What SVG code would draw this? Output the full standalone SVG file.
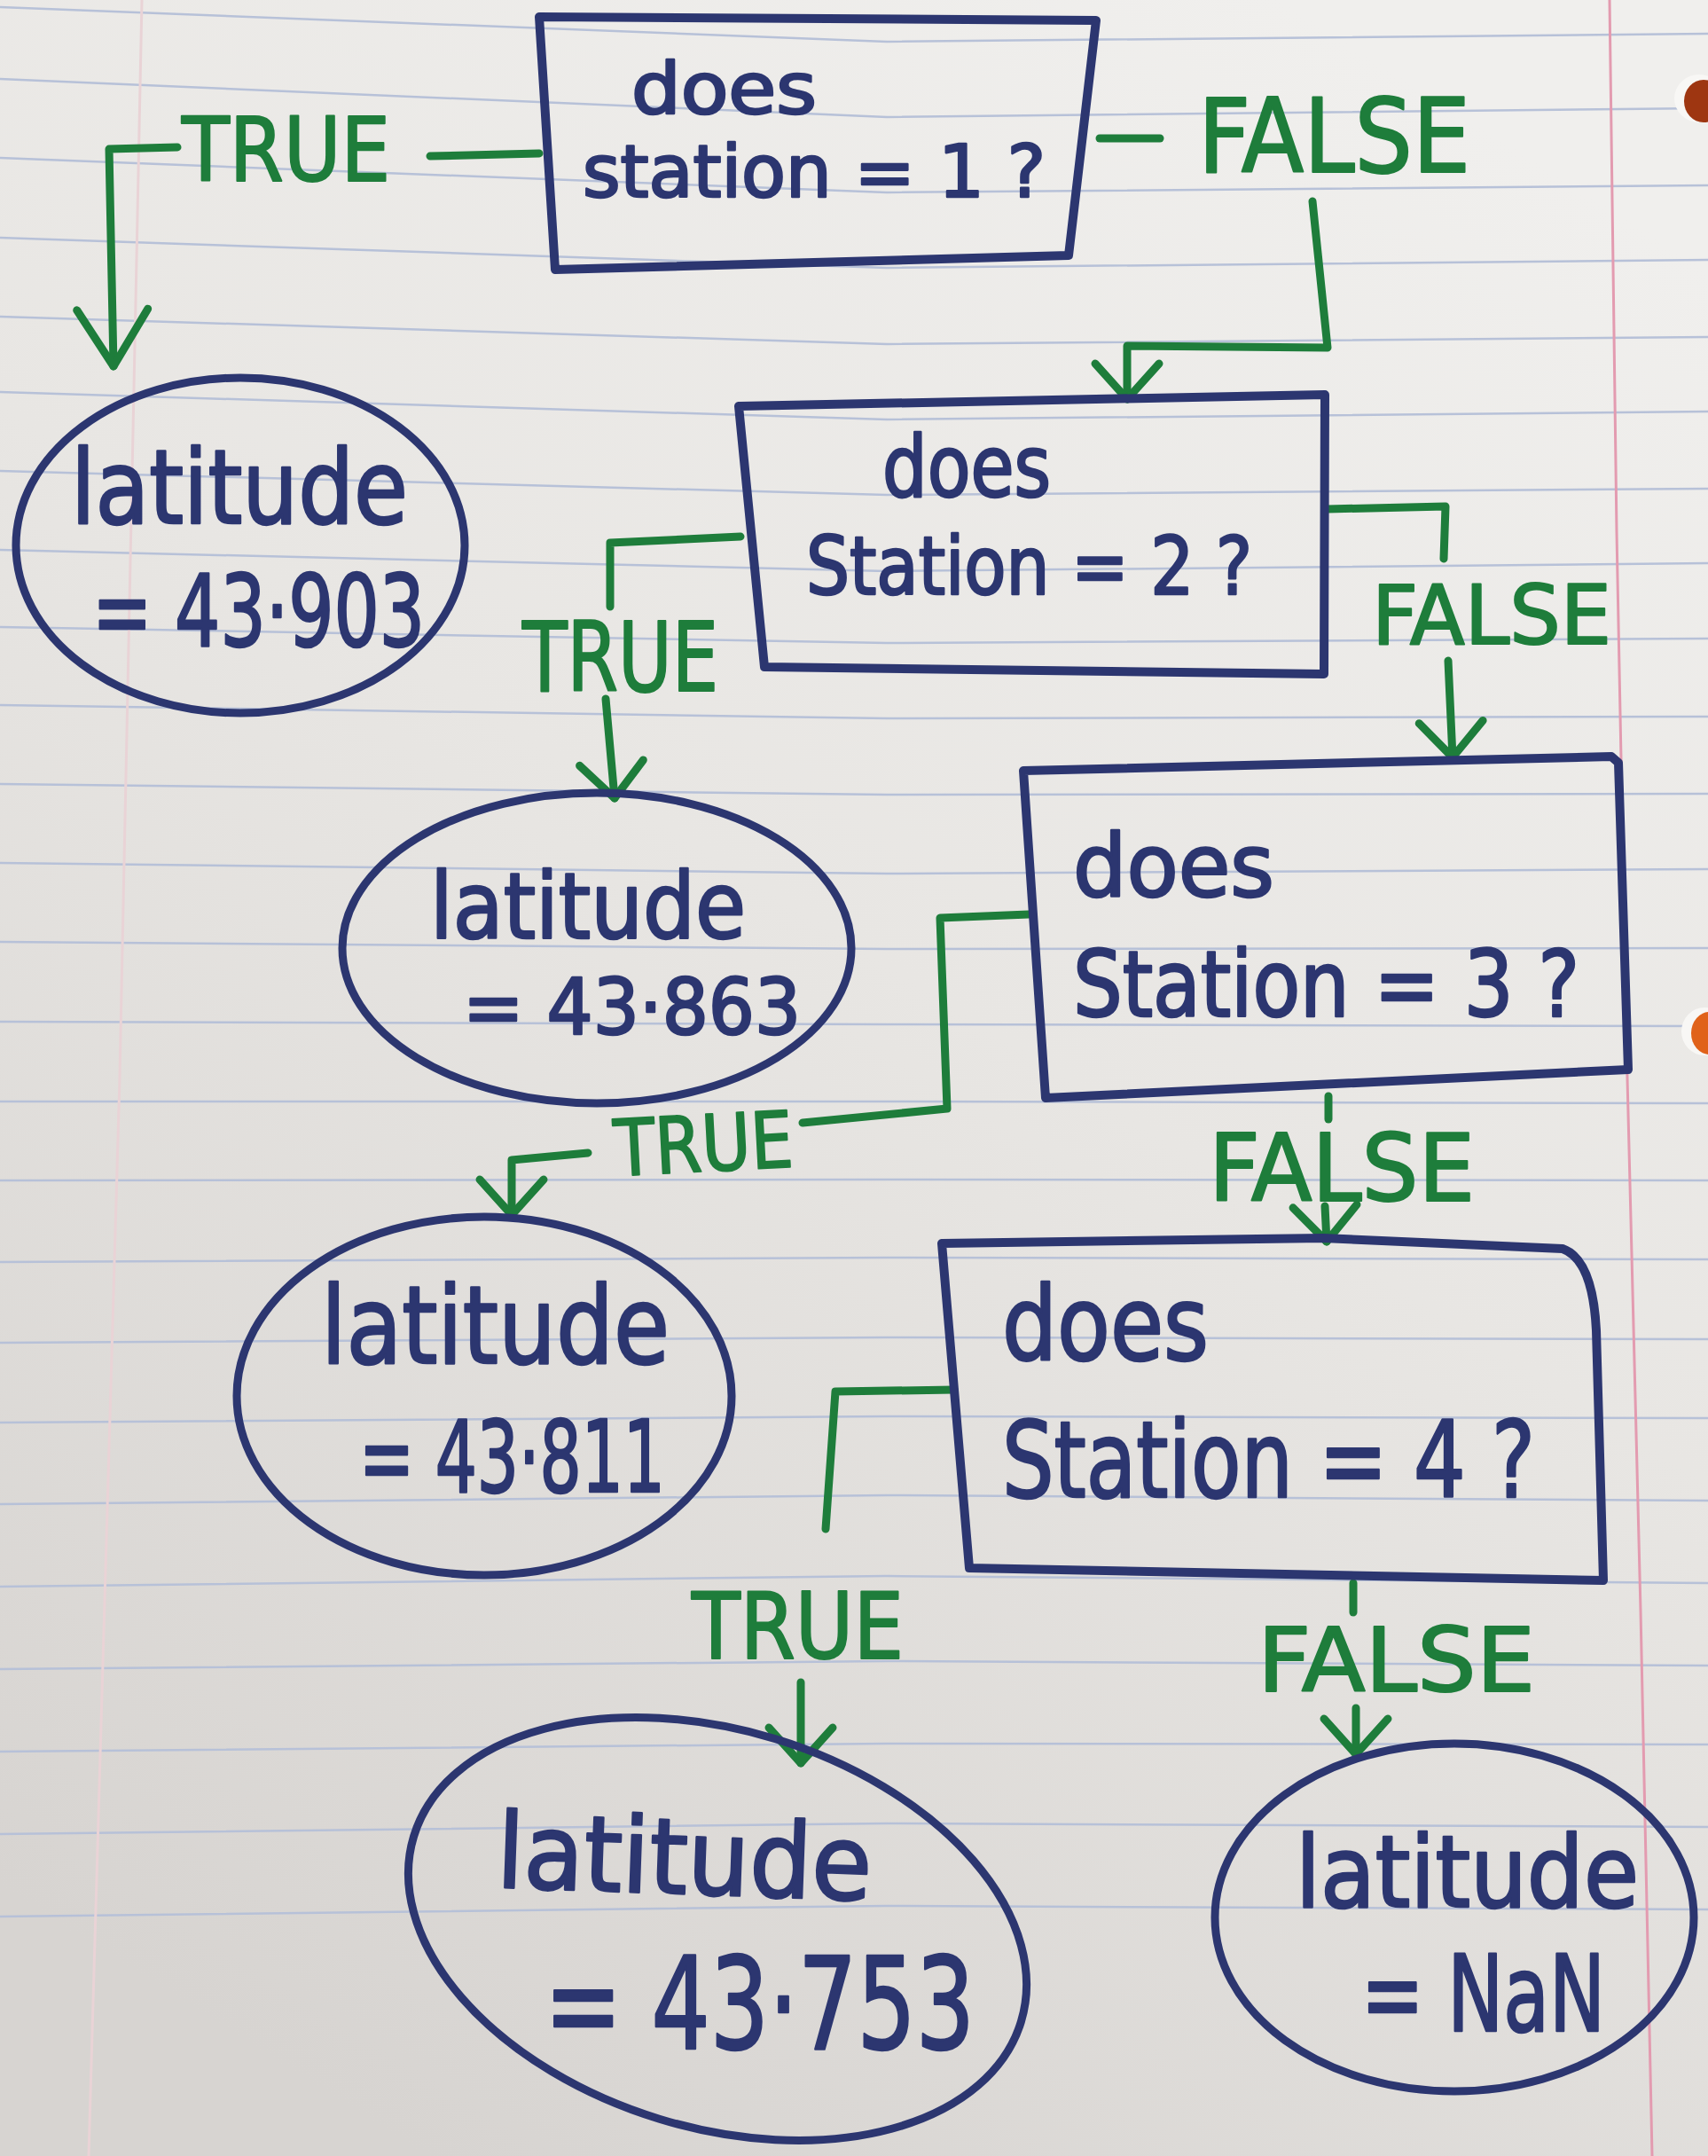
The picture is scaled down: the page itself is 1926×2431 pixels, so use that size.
<svg xmlns="http://www.w3.org/2000/svg" width="1926" height="2431" viewBox="0 0 1926 2431">
<defs>
  <linearGradient id="paper" x1="0.75" y1="0" x2="0.25" y2="1">
    <stop offset="0" stop-color="#f0efed"/>
    <stop offset="0.45" stop-color="#e8e6e3"/>
    <stop offset="1" stop-color="#d7d4d1"/>
  </linearGradient>
  <marker id="arrow" markerUnits="userSpaceOnUse" viewBox="-50 -45 60 90" refX="0" refY="0" markerWidth="60" markerHeight="90" orient="auto" overflow="visible">
    <path d="M -40 -36 L 0 0 L -40 36" fill="none" stroke="#1e7d3b" stroke-width="9" stroke-linecap="round" stroke-linejoin="round"/>
  </marker>
  <marker id="arrowLong" markerUnits="userSpaceOnUse" viewBox="-75 -50 85 100" refX="0" refY="0" markerWidth="85" markerHeight="100" orient="auto" overflow="visible">
    <path d="M -64 -40 L 0 0 L -64 40" fill="none" stroke="#1e7d3b" stroke-width="9" stroke-linecap="round" stroke-linejoin="round"/>
  </marker>
  <style>
    .rule{fill:none;stroke:#b7c1d8;stroke-width:2.5}
    .margin{fill:none;stroke:#e39bb0;stroke-width:3}
    .margin2{fill:none;stroke:#e9d3d6;stroke-width:3}
    .box{fill:none;stroke:#2c3670;stroke-width:10;stroke-linejoin:round}
    .oval{fill:none;stroke:#2c3670;stroke-width:9}
    .ink{font-family:"Liberation Sans Narrow","DejaVu Sans Condensed","Liberation Sans",sans-serif;fill:#2c3670;stroke:#2c3670;stroke-width:2.5;stroke-linejoin:round}
    .lbl{font-family:"Liberation Sans Narrow","DejaVu Sans Condensed","Liberation Sans",sans-serif;fill:#1e7d3b;stroke:#1e7d3b;stroke-width:2;stroke-linejoin:round}
    .conn{fill:none;stroke:#1e7d3b;stroke-width:9;stroke-linecap:round;stroke-linejoin:round}
  </style>
</defs>

<g id="paper-bg">
  <rect x="0" y="0" width="1926" height="2431" fill="url(#paper)"/>
  <path class="rule" d="M0 8 L1000 47 L1926 38 M0 89 L1000 132 L1926 122 M0 178 L1000 217 L1926 209 M0 268 L1000 302 L1926 293 M0 357 L1000 388 L1926 380 M0 442 L1000 473 L1926 464 M0 531 L1000 558 L1926 551 M0 620 L1000 644 L1926 635 M0 707 L1000 725 L1926 720 M0 795 L1000 810 L1926 808 M0 884 L1000 896 L1926 895 M0 973 L1000 985 L1926 980 M0 1062 L1000 1070 L1926 1069 M0 1152 L1000 1155 L1926 1157 M0 1242 L1000 1242 L1926 1244 M0 1331 L1000 1330 L1926 1331 M0 1423 L1000 1418 L1926 1420 M0 1514 L1000 1508 L1926 1510 M0 1604 L1000 1597 L1926 1599 M0 1696 L1000 1686 L1926 1692 M0 1789 L1000 1777 L1926 1785 M0 1882 L1000 1873 L1926 1878 M0 1975 L1000 1966 L1926 1967 M0 2068 L1000 2056 L1926 2060 M0 2161 L1000 2149 L1926 2153"/>
  <path class="margin" d="M1815 0 L1823 600 L1835 1215 L1850 1816 L1863 2431"/>
  <path class="margin2" d="M160 0 L135 1215 L100 2431"/>
  <ellipse cx="1916" cy="111" rx="28" ry="27" fill="#f8f7f5"/>
  <ellipse cx="1921" cy="114" rx="22" ry="24" fill="#9e3611"/>
  <ellipse cx="1922" cy="1163" rx="26" ry="27" fill="#f8f7f5"/>
  <ellipse cx="1928" cy="1165" rx="21" ry="24" fill="#e0621a"/>
</g>

<g id="connectors">
  <path class="conn" d="M608 173 L485 176"/>
  <path class="conn" d="M200 166 L123 168 L128 413" marker-end="url(#arrowLong)"/>
  <path class="conn" d="M1240 156 L1308 156"/>
  <path class="conn" d="M1480 227 L1497 392 L1271 390 L1271 450" marker-end="url(#arrow)"/>
  <path class="conn" d="M835 605 L688 612 L688 684"/>
  <path class="conn" d="M683 788 L693 900" marker-end="url(#arrow)"/>
  <path class="conn" d="M1497 574 L1630 571 L1628 630"/>
  <path class="conn" d="M1633 745 L1638 854" marker-end="url(#arrow)"/>
  <path class="conn" d="M1160 1031 L1060 1035 L1068 1250 L905 1266"/>
  <path class="conn" d="M663 1300 L577 1308 L577 1370" marker-end="url(#arrow)"/>
  <path class="conn" d="M1498 1236 L1498 1262"/>
  <path class="conn" d="M1494 1360 L1496 1400" marker-end="url(#arrow)"/>
  <path class="conn" d="M1076 1567 L942 1569 L931 1724"/>
  <path class="conn" d="M903 1897 L903 1988" marker-end="url(#arrow)"/>
  <path class="conn" d="M1526 1785 L1526 1818"/>
  <path class="conn" d="M1529 1926 L1529 1978" marker-end="url(#arrow)"/>
</g>

<g id="edge-labels">
  <text class="lbl" x="205" y="204" font-size="100" textLength="235" lengthAdjust="spacingAndGlyphs">TRUE</text>
  <text class="lbl" x="1351" y="194" font-size="115" textLength="307" lengthAdjust="spacingAndGlyphs">FALSE</text>
  <text class="lbl" x="589" y="779" font-size="108" textLength="221" lengthAdjust="spacingAndGlyphs">TRUE</text>
  <text class="lbl" x="1547" y="726" font-size="92" textLength="270" lengthAdjust="spacingAndGlyphs">FALSE</text>
  <text class="lbl" x="694" y="1326" font-size="88" textLength="202" lengthAdjust="spacingAndGlyphs" transform="rotate(-3 694 1326)">TRUE</text>
  <text class="lbl" x="1363" y="1354" font-size="106" textLength="300" lengthAdjust="spacingAndGlyphs">FALSE</text>
  <text class="lbl" x="780" y="1870" font-size="103" textLength="239" lengthAdjust="spacingAndGlyphs">TRUE</text>
  <text class="lbl" x="1418" y="1907" font-size="100" textLength="313" lengthAdjust="spacingAndGlyphs">FALSE</text>
</g>

<g id="q1">
  <polygon class="box" points="608,19 1236,23 1205,288 626,304"/>
  <text class="ink" x="712" y="128" font-size="80" textLength="209" lengthAdjust="spacingAndGlyphs">does</text>
  <text class="ink" x="657" y="222" font-size="82" textLength="522" lengthAdjust="spacingAndGlyphs">station = 1 ?</text>
</g>

<g id="q2">
  <polygon class="box" points="833,458 1494,445 1493,760 862,752"/>
  <text class="ink" x="995" y="560" font-size="96" textLength="190" lengthAdjust="spacingAndGlyphs">does</text>
  <text class="ink" x="909" y="670" font-size="90" textLength="503" lengthAdjust="spacingAndGlyphs">Station = 2 ?</text>
</g>

<g id="q3">
  <polygon class="box" points="1154,869 1817,853 1825,860 1836,1206 1179,1238"/>
  <text class="ink" x="1210" y="1011" font-size="98" textLength="227" lengthAdjust="spacingAndGlyphs">does</text>
  <text class="ink" x="1210" y="1146" font-size="104" textLength="571" lengthAdjust="spacingAndGlyphs">Station = 3 ?</text>
</g>

<g id="q4">
  <path class="box" d="M1062 1402 L1492 1396 L1762 1408 Q1796 1420 1800 1500 L1808 1782 L1093 1768 Z"/>
  <text class="ink" x="1130" y="1533" font-size="116" textLength="233" lengthAdjust="spacingAndGlyphs">does</text>
  <text class="ink" x="1130" y="1688" font-size="120" textLength="601" lengthAdjust="spacingAndGlyphs">Station = 4 ?</text>
</g>

<g id="lat1">
  <ellipse class="oval" cx="271" cy="615" rx="253" ry="189"/>
  <text class="ink" x="80" y="590" font-size="115" textLength="380" lengthAdjust="spacingAndGlyphs">latitude</text>
  <text class="ink" x="104" y="728" font-size="112" textLength="375" lengthAdjust="spacingAndGlyphs">= 43·903</text>
</g>

<g id="lat2">
  <ellipse class="oval" cx="673" cy="1069" rx="287" ry="175"/>
  <text class="ink" x="485" y="1058" font-size="104" textLength="356" lengthAdjust="spacingAndGlyphs">latitude</text>
  <text class="ink" x="522" y="1166" font-size="88" textLength="381" lengthAdjust="spacingAndGlyphs">= 43·863</text>
</g>

<g id="lat3">
  <ellipse class="oval" cx="546" cy="1574" rx="279" ry="202"/>
  <text class="ink" x="362" y="1537" font-size="122" textLength="393" lengthAdjust="spacingAndGlyphs">latitude</text>
  <text class="ink" x="405" y="1682" font-size="112" textLength="345" lengthAdjust="spacingAndGlyphs">= 43·811</text>
</g>

<g id="lat4">
  <ellipse class="oval" cx="809" cy="2175" rx="358" ry="224" transform="rotate(17 809 2175)"/>
  <text class="ink" x="559" y="2128" font-size="118" textLength="423" lengthAdjust="spacingAndGlyphs" transform="rotate(2 559 2128)">latitude</text>
  <text class="ink" x="614" y="2310" font-size="145" textLength="485" lengthAdjust="spacingAndGlyphs">= 43·753</text>
</g>

<g id="latnan">
  <ellipse class="oval" cx="1640" cy="2162" rx="270" ry="196"/>
  <text class="ink" x="1461" y="2150" font-size="112" textLength="387" lengthAdjust="spacingAndGlyphs">latitude</text>
  <text class="ink" x="1535" y="2290" font-size="120" textLength="275" lengthAdjust="spacingAndGlyphs">= NaN</text>
</g>
</svg>
